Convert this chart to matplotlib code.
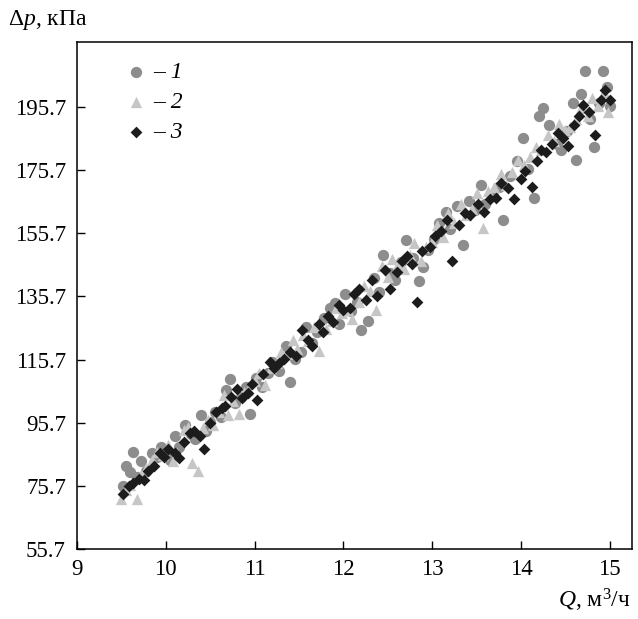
import matplotlib
matplotlib.use("Agg")
import matplotlib.pyplot as plt

plt.rcParams["font.family"] = ["Liberation Serif", "DejaVu Serif"]
plt.rcParams["mathtext.fontset"] = "custom"
plt.rcParams["mathtext.rm"] = "Liberation Serif"
plt.rcParams["mathtext.it"] = "Liberation Serif:italic"

# series 1 (circles)
x1 = [9.52, 9.55, 9.6, 9.63, 9.68, 9.72, 9.78, 9.85, 9.9, 9.95, 10.0, 10.05, 10.1, 10.15,
      10.22, 10.28, 10.33, 10.4, 10.45, 10.5, 10.55, 10.62, 10.68, 10.72, 10.78, 10.85, 10.9,
      10.95, 11.02, 11.08, 11.15, 11.2, 11.28, 11.35, 11.4, 11.45, 11.52, 11.58, 11.65, 11.7,
      11.78, 11.85, 11.9, 11.95, 12.02, 12.08, 12.15, 12.2, 12.28, 12.35, 12.4, 12.45, 12.52,
      12.58, 12.65, 12.7, 12.78, 12.85, 12.9, 12.95, 13.02, 13.08, 13.15, 13.2, 13.28, 13.35,
      13.42, 13.48, 13.55, 13.6, 13.68, 13.75, 13.8, 13.88, 13.95, 14.02, 14.08, 14.15, 14.2,
      14.25, 14.32, 14.4, 14.45, 14.52, 14.58, 14.62, 14.68, 14.72, 14.78, 14.82, 14.88, 14.92,
      14.97, 15.0]
y1 = [75.5, 82.0, 80.0, 86.5, 78.5, 83.5, 80.5, 86.0, 85.0, 88.0, 86.5, 84.0, 91.5, 88.0,
      95.0, 92.0, 90.5, 98.0, 93.0, 96.0, 99.0, 97.5, 106.0, 109.5, 102.0, 104.0, 107.0,
      98.5, 110.0, 107.0, 111.5, 115.0, 112.0, 120.0, 108.5, 116.0, 118.0, 126.0, 121.0, 124.5,
      129.0, 132.0, 133.5, 127.0, 136.5, 131.0, 134.0, 125.0, 128.0, 141.5, 137.0, 149.0, 143.0,
      141.0, 146.5, 153.5, 148.0, 140.5, 145.0, 150.5, 154.0, 159.0, 162.5, 157.0, 164.5, 152.0,
      166.0, 163.0, 171.0, 165.0, 168.0, 170.5, 160.0, 174.0, 178.5, 186.0, 176.0, 167.0, 193.0,
      195.5, 190.0, 184.0, 182.0, 188.0, 197.0, 179.0, 200.0, 207.0, 192.0, 183.0, 197.0, 207.0,
      202.0, 196.0]

# series 2 (triangles)
x2 = [9.5, 9.55, 9.6, 9.68, 9.72, 9.78, 9.85, 9.9, 9.97, 10.02, 10.08, 10.13, 10.2, 10.25,
      10.3, 10.36, 10.42, 10.48, 10.53, 10.6, 10.65, 10.7, 10.76, 10.82, 10.88, 10.93, 11.0,
      11.05, 11.12, 11.18, 11.25, 11.3, 11.37, 11.43, 11.48, 11.55, 11.6, 11.67, 11.73, 11.8,
      11.87, 11.92, 11.98, 12.05, 12.1, 12.17, 12.23, 12.3, 12.37, 12.43, 12.5, 12.55, 12.62,
      12.68, 12.75, 12.8, 12.87, 12.93, 13.0, 13.05, 13.12, 13.18, 13.25, 13.32, 13.38, 13.45,
      13.5, 13.57, 13.63, 13.7, 13.77, 13.83, 13.9, 13.97, 14.03, 14.1, 14.17, 14.23, 14.3,
      14.37, 14.43, 14.5, 14.55, 14.62, 14.68, 14.75, 14.8, 14.87, 14.93, 14.98]
y2 = [71.5, 74.5, 76.0, 71.5, 79.0, 81.5, 84.0, 86.5, 85.5, 88.5, 83.5, 86.0, 93.5, 94.5,
      83.0, 80.5, 94.0, 96.5, 95.0, 99.0, 104.5, 98.0, 102.5, 98.5, 105.5, 106.0, 109.0,
      111.5, 107.5, 113.0, 114.5, 118.0, 117.5, 122.0, 119.0, 123.5, 121.5, 126.0, 118.5, 125.5,
      128.0, 132.0, 130.5, 131.5, 128.5, 134.0, 139.0, 137.5, 131.5, 145.5, 142.0, 147.5, 146.0,
      144.5, 149.0, 152.5, 147.0, 151.5, 153.0, 158.5, 154.5, 162.0, 159.0, 165.0, 161.5, 163.5,
      168.5, 157.5, 169.0, 170.5, 174.5, 171.0, 175.0, 179.0, 177.5, 180.0, 183.0, 182.0, 187.0,
      185.0, 190.5, 188.5, 189.5, 192.0, 195.5, 193.0, 198.5, 196.0, 200.5, 194.0]

# series 3 (diamonds)
x3 = [9.52, 9.58, 9.63, 9.7, 9.75, 9.8, 9.87, 9.93, 9.98, 10.03, 10.1, 10.15, 10.2, 10.27,
      10.32, 10.38, 10.43, 10.5, 10.57, 10.63, 10.67, 10.73, 10.8, 10.86, 10.92, 10.97, 11.03,
      11.1, 11.17, 11.22, 11.27, 11.33, 11.4, 11.47, 11.53, 11.6, 11.65, 11.72, 11.77, 11.83,
      11.88, 11.95, 12.0, 12.07, 12.12, 12.18, 12.25, 12.32, 12.38, 12.47, 12.53, 12.6, 12.66,
      12.72, 12.77, 12.83, 12.88, 12.97, 13.03, 13.1, 13.17, 13.22, 13.3, 13.37, 13.43, 13.52,
      13.58, 13.65, 13.72, 13.78, 13.85, 13.92, 14.0, 14.05, 14.12, 14.18, 14.22, 14.28, 14.35,
      14.42, 14.47, 14.53, 14.6, 14.65, 14.7, 14.77, 14.83, 14.9, 14.95, 15.0]
y3 = [73.0, 75.5, 76.5, 78.0, 77.5, 80.5, 82.0, 86.0, 85.0, 87.5, 86.0, 84.5, 89.5, 92.5,
      93.0, 91.5, 87.5, 95.5, 99.0, 100.5, 101.0, 104.0, 106.5, 103.5, 105.0, 108.0, 103.0,
      111.0, 115.0, 113.0, 114.5, 116.0, 118.0, 117.0, 125.0, 122.0, 120.0, 127.0, 124.5, 129.5,
      127.5, 133.0, 131.5, 132.0, 136.5, 138.0, 134.5, 141.0, 136.0, 144.0, 138.0, 143.5, 147.0,
      148.5, 146.0, 134.0, 150.0, 151.5, 155.0, 156.5, 160.0, 147.0, 158.5, 162.0, 161.5, 165.0,
      162.5, 166.5, 167.0, 171.5, 170.0, 166.5, 173.0, 175.5, 170.5, 178.5, 182.0, 181.5, 184.0,
      187.5, 186.0, 183.5, 190.0, 193.0, 196.5, 194.0, 187.0, 198.0, 201.0, 198.0]

yticks = [55.7, 75.7, 95.7, 115.7, 135.7, 155.7, 175.7, 195.7]
xticks = [9, 10, 11, 12, 13, 14, 15]
labels = ["1", "2", "3"]

fig = plt.figure(figsize=(6.38, 6.19), dpi=100, facecolor="white")
ax = fig.add_axes([0.1207, 0.1131, 0.8699, 0.8189])

ax.scatter(x1, y1, marker="o", s=66, color="#8d8d8d", linewidths=0, label="– " + labels[0], zorder=2)
ax.scatter(x2, y2, marker="^", s=66, color="#c6c6c6", linewidths=0, label="– " + labels[1], zorder=3)
ax.scatter(x3, y3, marker="D", s=36, color="#1c1c1c", linewidths=0, label="– " + labels[2], zorder=4)

ax.set_xlim(9, 15.25)
ax.set_ylim(55.7, 216.3)
ax.set_xticks(xticks)
ax.set_yticks(yticks)
ax.set_yticklabels([f"{v:.1f}" for v in yticks])
ax.tick_params(direction="in", length=6, width=1, labelsize=16.5, top=False, right=False)
ax.tick_params(axis="x", pad=7)
ax.tick_params(axis="y", pad=8)
for sp in ax.spines.values():
    sp.set_linewidth(1.1)

ax.legend(loc="upper left", bbox_to_anchor=(0.07, 0.98), frameon=False,
          handlelength=0.9, handletextpad=0.3, labelspacing=0.35, borderaxespad=0,
          prop={"family": "Liberation Serif", "style": "italic", "size": 17})

fig.text(0.012, 0.968, r"$\Delta\it{p}$, кПа", fontsize=17, ha="left", va="center")
fig.text(0.988, 0.03, r"$\it{Q}$, м$^3$/ч", fontsize=17, ha="right", va="center")

fig.savefig("out.png", dpi=100)
